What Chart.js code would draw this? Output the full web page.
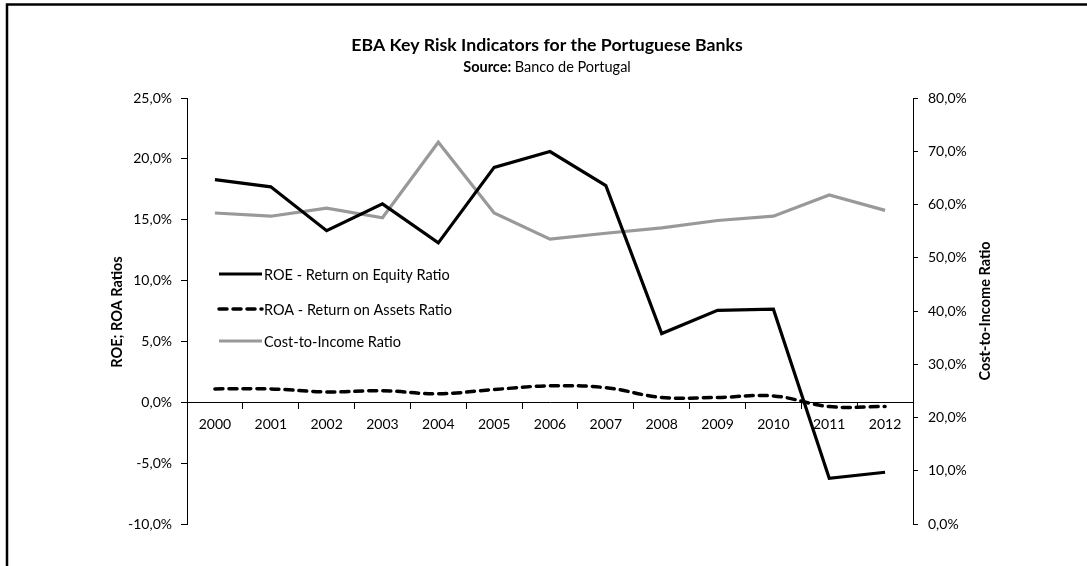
<!DOCTYPE html>
<html>
<head>
<meta charset="utf-8">
<script src="https://cdn.jsdelivr.net/npm/chart.js@4.4.1/dist/chart.umd.min.js"></script>
<style>
  html, body { margin: 0; padding: 0; background: #fff; }
  #wrap { width: 1087px; height: 566px; position: relative; }
</style>
</head>
<body>
<div id="wrap"><canvas id="c" width="1087" height="566"></canvas></div>
<script>
// ---- data ----
const categories = ['2000','2001','2002','2003','2004','2005','2006','2007','2008','2009','2010','2011','2012'];
const roe = [18.3, 17.7, 14.1, 16.3, 13.1, 19.3, 20.6, 17.8, 5.65, 7.55, 7.65, -6.25, -5.75];
const roa = [1.1, 1.1, 0.85, 0.95, 0.7, 1.05, 1.35, 1.2, 0.4, 0.4, 0.52, -0.35, -0.35];
const costIncome = [58.4, 57.8, 59.3, 57.5, 71.7, 58.4, 53.5, 54.6, 55.6, 57.0, 57.8, 61.8, 58.9];
const seriesNames = ['ROE - Return on Equity Ratio', 'ROA - Return on Assets Ratio', 'Cost-to-Income Ratio'];
const leftTicks = [-10, -5, 0, 5, 10, 15, 20, 25];
const rightTicks = [0, 10, 20, 30, 40, 50, 60, 70, 80];

const FONT = 'Lato, "Open Sans", sans-serif';
const fmt = v => v.toFixed(1).replace('.', ',') + '%';

const frame = {
  id: 'frame',
  beforeDraw(chart) {
    const ctx = chart.ctx;
    ctx.save();
    ctx.fillStyle = '#fff';
    ctx.fillRect(0, 0, chart.width, chart.height);
    ctx.strokeStyle = '#000';
    ctx.lineWidth = 2.5;
    ctx.beginPath();
    ctx.moveTo(7, chart.height);
    ctx.lineTo(7, 4.5);
    ctx.lineTo(chart.width, 4.5);
    ctx.stroke();
    ctx.restore();
  },
  afterDraw(chart) {
    const ctx = chart.ctx;
    ctx.save();
    ctx.fillStyle = '#000';
    ctx.textAlign = 'center';
    ctx.textBaseline = 'middle';
    // title
    ctx.font = 'bold 17.7px ' + FONT;
    ctx.fillText('EBA Key Risk Indicators for the Portuguese Banks', 547, 45);
    // subtitle with bold "Source:"
    ctx.font = 'bold 14.5px ' + FONT;
    const a = 'Source: ';
    const wa = ctx.measureText(a).width;
    ctx.font = '14.5px ' + FONT;
    const b = 'Banco de Portugal';
    const wb = ctx.measureText(b).width;
    const x0 = 547 - (wa + wb) / 2;
    ctx.textAlign = 'left';
    ctx.font = 'bold 14.5px ' + FONT;
    ctx.fillText(a, x0, 67);
    ctx.font = '14.5px ' + FONT;
    ctx.fillText(b, x0 + wa, 67);
    // axis titles
    ctx.font = 'bold 14.5px ' + FONT;
    ctx.textAlign = 'center';
    ctx.save();
    ctx.translate(117, 312);
    ctx.rotate(-Math.PI / 2);
    ctx.fillText('ROE; ROA Ratios', 0, 0);
    ctx.restore();
    ctx.save();
    ctx.translate(985, 311);
    ctx.rotate(-Math.PI / 2);
    ctx.fillText('Cost-to-Income Ratio', 0, 0);
    ctx.restore();
    // legend
    const rows = [274, 309, 341];
    ctx.font = '14.5px ' + FONT;
    ctx.textAlign = 'left';
    chart.data.datasets.forEach((ds, i) => {
      const y = rows[i];
      ctx.save();
      ctx.strokeStyle = ds.borderColor;
      ctx.lineWidth = ds.borderWidth;
      ctx.lineCap = ds.borderCapStyle || 'butt';
      ctx.setLineDash(ds.borderDash || []);
      ctx.beginPath();
      ctx.moveTo(219, y);
      ctx.lineTo(262, y);
      ctx.stroke();
      ctx.restore();
      ctx.fillStyle = '#000';
      ctx.fillText(ds.label, 264, y + 1);
    });
    ctx.restore();
  }
};

const tickFont = { family: FONT, size: 14 };

new Chart(document.getElementById('c'), {
  type: 'line',
  data: {
    labels: categories,
    datasets: [
      { label: seriesNames[0], data: roe, yAxisID: 'y', borderColor: '#000', borderWidth: 3.2, pointRadius: 0, tension: 0, borderJoinStyle: 'miter' },
      { label: seriesNames[1], data: roa, yAxisID: 'y', borderColor: '#000', borderWidth: 3.5, borderDash: [8, 6], borderCapStyle: 'round', pointRadius: 0, tension: 0.4 },
      { label: seriesNames[2], data: costIncome, yAxisID: 'y1', borderColor: '#999999', borderWidth: 3.2, pointRadius: 0, tension: 0 }
    ]
  },
  options: {
    responsive: false,
    animation: false,
    layout: { padding: { top: 98, bottom: 42, left: 0, right: 0 } },
    plugins: { legend: { display: false }, tooltip: { enabled: false }, title: { display: false } },
    scales: {
      x: {
        type: 'category',
        position: { y: 0 },
        offset: true,
        grid: { offset: true, drawOnChartArea: false, drawTicks: true, tickLength: 6, color: '#000' },
        border: { display: true, color: '#000', width: 1 },
        ticks: { color: '#000', font: tickFont, padding: 8, maxRotation: 0, autoSkip: false },
        afterFit(s) { s.paddingLeft = 0; s.paddingRight = 0; }
      },
      y: {
        position: 'left',
        min: leftTicks[0], max: leftTicks[leftTicks.length - 1],
        afterBuildTicks(s) { s.ticks = leftTicks.map(v => ({ value: v })); },
        grid: { drawOnChartArea: false, drawTicks: true, tickLength: 6, color: '#000' },
        border: { display: true, color: '#000', width: 1 },
        ticks: { color: '#000', font: tickFont, padding: 9, callback: v => fmt(v) },
        afterFit(s) { s.width = 187; s.paddingTop = 0; s.paddingBottom = 0; }
      },
      y1: {
        position: 'right',
        min: rightTicks[0], max: rightTicks[rightTicks.length - 1],
        afterBuildTicks(s) { s.ticks = rightTicks.map(v => ({ value: v })); },
        grid: { drawOnChartArea: false, drawTicks: true, tickLength: 5, color: '#000' },
        border: { display: true, color: '#000', width: 1 },
        ticks: { color: '#000', font: tickFont, padding: 10, callback: v => fmt(v) },
        afterFit(s) { s.width = 1087 - 913; s.paddingTop = 0; s.paddingBottom = 0; }
      }
    }
  },
  plugins: [frame]
});
</script>
</body>
</html>
